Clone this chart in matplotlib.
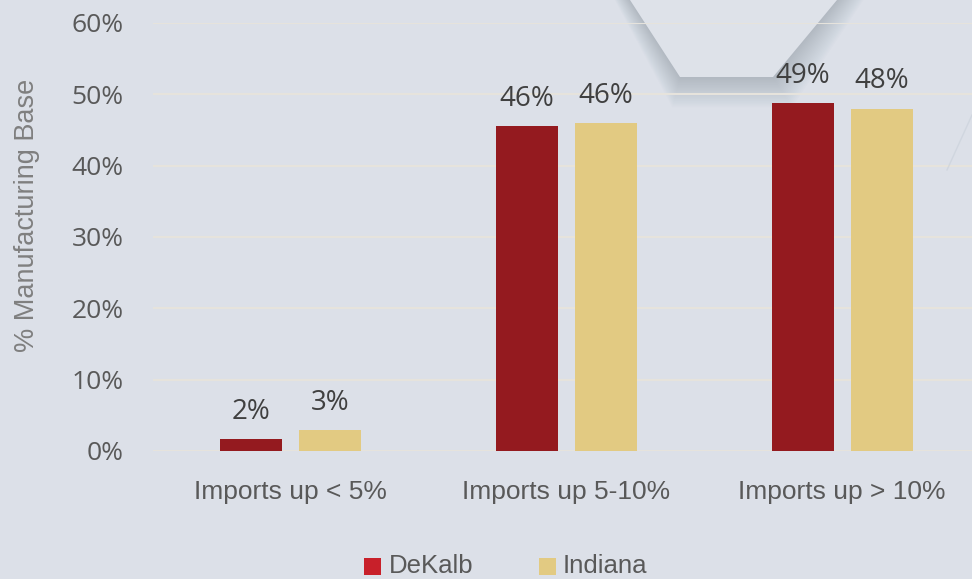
import matplotlib
matplotlib.use("Agg")
import matplotlib.pyplot as plt
from matplotlib.patches import Rectangle, Polygon
from matplotlib.lines import Line2D
from matplotlib import font_manager as fm

categories = ["Imports up < 5%", "Imports up 5-10%", "Imports up > 10%"]
series_names = ["DeKalb", "Indiana"]
dekalb = [1.7, 45.6, 48.8]
indiana = [2.9, 46.0, 48.0]
dekalb_labels = ["2%", "46%", "49%"]
indiana_labels = ["3%", "46%", "48%"]
yticks = [0, 10, 20, 30, 40, 50, 60]
ytick_labels = ["0%", "10%", "20%", "30%", "40%", "50%", "60%"]

names = {f.name for f in fm.fontManager.ttflist}
narrow = "Liberation Sans Narrow" if "Liberation Sans Narrow" in names else "Liberation Sans"
sans = "Open Sans"

W, H = 972, 579
fig = plt.figure(figsize=(W / 100, H / 100), dpi=100)
bg = "#dce0e8"
fig.patch.set_facecolor(bg)

def px(x, y):
    return (x / W, 1 - y / H)

# decorative background shape (top-right) with soft shadow below
for d in range(2, 40, 2):
    shadow = Polygon([px(630 - d * 0.4, 0), px(680 - d * 0.2, 77 + d * 0.8),
                      px(773 + d * 0.5, 77 + d * 0.8), px(837 + d * 0.7, 0)],
                     closed=True, transform=fig.transFigure,
                     facecolor="#7d8a99", alpha=0.025, edgecolor="none", zorder=0)
    fig.patches.append(shadow)
shape = Polygon([px(630, 0), px(680, 77), px(773, 77), px(837, 0)], closed=True,
                transform=fig.transFigure, facecolor="#dee2e9", edgecolor="none", zorder=0)
fig.patches.append(shape)
fig.lines.append(Line2D([947 / W, 972 / W], [1 - 170 / H, 1 - 115 / H],
                        transform=fig.transFigure, color="#c9d0d9", lw=1, alpha=0.6))

left, right = 153 / W, 980 / W
bottom, top = 1 - 451 / H, 1 - 23 / H
ax = fig.add_axes([left, bottom, right - left, top - bottom])
ax.set_facecolor("none")
ax.set_zorder(1)

x = list(range(len(categories)))
w = 0.225
off = 0.143
b1 = ax.bar([i - off for i in x], dekalb, width=w, color="#941a1f", zorder=3)
b2 = ax.bar([i + off for i in x], indiana, width=w, color="#e2ca82", zorder=3)

for bars, labs in ((b1, dekalb_labels), (b2, indiana_labels)):
    for r, lab in zip(bars, labs):
        ax.annotate(lab, (r.get_x() + r.get_width() / 2, r.get_height()),
                    xytext=(0, 14.5), textcoords="offset points",
                    ha="center", va="baseline", fontsize=20,
                    color="#404040", family=sans)

ax.set_xlim(-0.5, 2.5)
ax.set_ylim(0, 60)
ax.set_yticks(yticks)
ax.set_yticklabels(ytick_labels, family=sans, fontsize=19, color="#595959")
ax.set_xticks(x)
ax.set_xticklabels(categories, family=narrow, fontsize=19, color="#595959")
ax.tick_params(axis="both", length=0)
ax.tick_params(axis="y", pad=21)
ax.tick_params(axis="x", pad=21)
for s in ax.spines.values():
    s.set_visible(False)
ax.grid(axis="y", color="#e6e3dc", linewidth=1.5, zorder=0)
ax.set_axisbelow(True)

fig.text(27 / W, 1 - 215 / H, "% Manufacturing Base", rotation=90, ha="center",
         va="center", family=narrow, fontsize=19.5, color="#7f7f7f")

# legend
leg = [("DeKalb", "#c8202a", 364, 389), ("Indiana", "#e2ca82", 539, 563)]
for name, col, sx, tx in leg:
    fig.patches.append(Rectangle(px(sx, 575), 17 / W, 17 / H, transform=fig.transFigure,
                                 facecolor=col, edgecolor="none"))
    fig.text(tx / W, 1 - 566 / H, name, ha="left", va="center", family=narrow,
             fontsize=18.5, color="#595959")

fig.savefig("out.png", dpi=100, facecolor=bg)
